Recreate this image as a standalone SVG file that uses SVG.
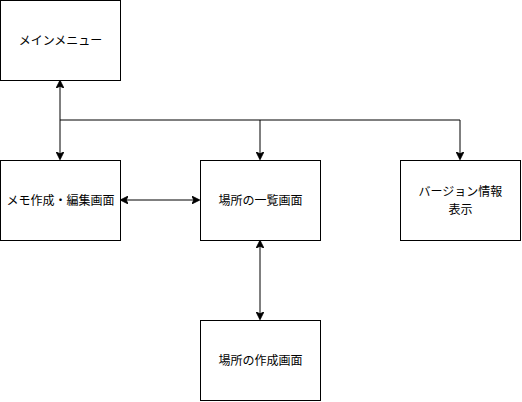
<svg xmlns="http://www.w3.org/2000/svg" width="522" height="402" viewBox="0 0 522 402">
<defs>
<style>
.box{fill:#fff;stroke:#000;stroke-width:1}
.lbl{font-family:"Liberation Sans","Noto Sans CJK JP",sans-serif;font-size:12px;fill:#000;text-anchor:middle;dominant-baseline:central}
.ln{fill:none;stroke:#000;stroke-width:1}
</style>
<marker id="ah" viewBox="0 0 10 10" refX="9" refY="5" markerWidth="8" markerHeight="8" markerUnits="userSpaceOnUse" orient="auto-start-reverse">
<path d="M0,0 L10,5 L0,10 L2.5,5 Z" fill="#000" stroke="#000" stroke-width="1"/>
</marker>
</defs>
<rect width="522" height="402" fill="#fff"/>
<g id="connectors">
<path class="ln" d="M60,81 L60,159" marker-start="url(#ah)" marker-end="url(#ah)"/>
<path class="ln" d="M60,120 L260,120 L260,159" marker-end="url(#ah)"/>
<path class="ln" d="M260,120 L460,120 L460,159" marker-end="url(#ah)"/>
<path class="ln" d="M121,200 L199,200" marker-start="url(#ah)" marker-end="url(#ah)"/>
<path class="ln" d="M260,241 L260,319" marker-start="url(#ah)" marker-end="url(#ah)"/>
</g>
<g id="main-menu">
<rect class="box" x="0.5" y="0.5" width="120" height="80"/>
<text class="lbl" x="60.5" y="40.5">メインメニュー</text>
</g>
<g id="memo-edit">
<rect class="box" x="0.5" y="160.5" width="120" height="80"/>
<text class="lbl" x="60.5" y="200.5">メモ作成・編集画面</text>
</g>
<g id="place-list">
<rect class="box" x="200.5" y="160.5" width="120" height="80"/>
<text class="lbl" x="260.5" y="200.5">場所の一覧画面</text>
</g>
<g id="version-info">
<rect class="box" x="400.5" y="160.5" width="120" height="80"/>
<text class="lbl" x="460.5" y="191.5">バージョン情報</text>
<text class="lbl" x="460.5" y="209.5">表示</text>
</g>
<g id="place-create">
<rect class="box" x="200.5" y="320.5" width="120" height="80"/>
<text class="lbl" x="260.5" y="360.5">場所の作成画面</text>
</g>
</svg>
